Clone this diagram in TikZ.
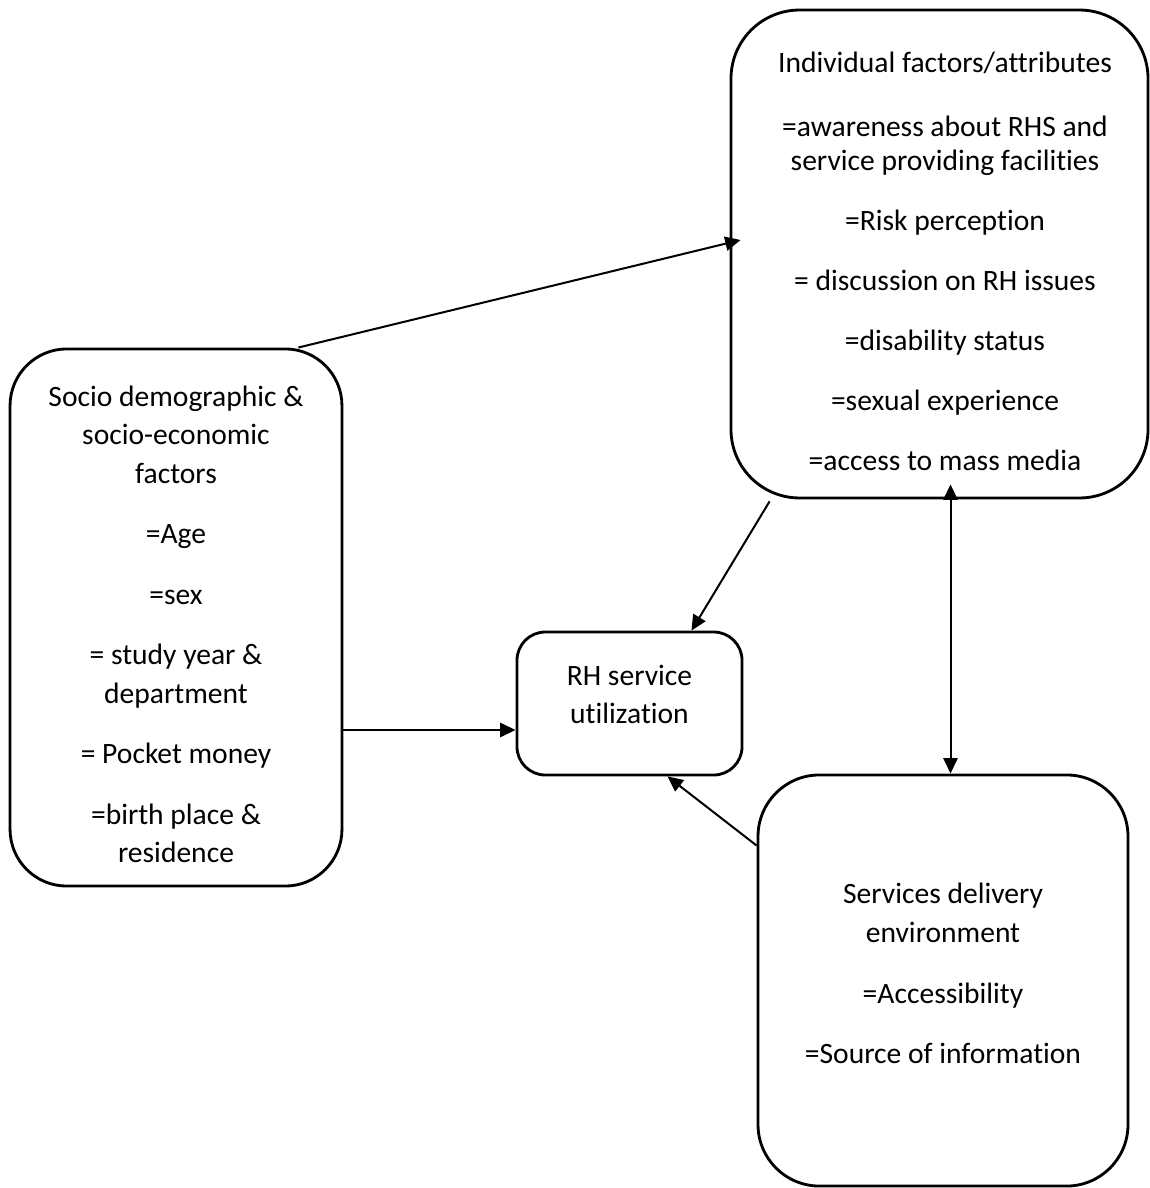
\documentclass[tikz,border=0pt]{standalone}
\usepackage{fontspec}
\setmainfont{Carlito}[Ligatures=NoCommon]
\usetikzlibrary{arrows.meta, calc}
\tikzset{
    >={Triangle[length=6.5pt, width=6pt]},% solid tip on every connector
    factor/.style = {draw, rectangle, rounded corners=#1, line width=1.2pt, inner sep=0pt},
    factor/.default = 25pt,
    itemtext/.style = {align=center, inner sep=0pt, anchor=north,
                       font=\fontsize{12.5pt}{#1}\selectfont},
    itemtext/.default = 14.4pt,
    link/.style = {->, line width=0.85pt}
}

\begin{document}
\begin{tikzpicture}[x=0.423pt, y=-0.423pt]% one unit = one pixel of the scan
  \useasboundingbox (0,0) rectangle (1149,1188);

  % the four boxes
  \node [factor=29pt, minimum width=176.4pt, minimum height=206.4pt] (indiv) at (939.5,254) {};
  \node [factor=24pt, minimum width=140.4pt, minimum height=227.2pt] (socio) at (176,617.5) {};
  \node [factor=12pt, minimum width=95.2pt, minimum height=60.5pt] (rh) at (629.5,703.5) {};
  \node [factor=26pt, minimum width=156.5pt, minimum height=173.9pt] (serv) at (943,980.5) {};

  % what stands in them
  \node [itemtext] (indivtxt) at (945,52) {Individual factors/attributes\\[12.5pt]
    =awareness about RHS and\\
    service providing facilities\\[11pt]
    =Risk perception\\[11pt]
    = discussion on RH issues\\[11pt]
    =disability status\\[11pt]
    =sexual experience\\[11pt]
    =access to mass media};
  \node [itemtext=16.3pt] (sociotxt) at (176,385) {Socio demographic \&\\
    socio-economic\\
    factors\\[9.3pt]
    =Age\\[9.3pt]
    =sex\\[9.3pt]
    = study year \&\\
    department\\[9.3pt]
    = Pocket money\\[9.3pt]
    =birth place \&\\
    residence};
  \node [itemtext=16.1pt] (rhtxt) at (629.5,665) {RH service\\ utilization};
  \node [itemtext=16.5pt] (servtxt) at (943,882) {Services delivery\\
    environment\\[9.3pt]
    =Accessibility\\[9.3pt]
    =Source of information};

  % connectors
  \coordinate (rhin) at ([shift={(0,26.5)}]rh.west);
  \coordinate (mtop) at ([shift={(11,-15)}]indiv.south);
  \draw [link] ([shift={(-45,0)}]socio.north east) -- ([shift={(11,-14)}]indiv.west);
  \draw [link] ([shift={(40,2)}]indiv.south west) -- ([shift={(62,0)}]rh.north);
  \draw [link] (socio.east |- rhin) -- (rhin);
  \draw [link] ([shift={(0,72)}]serv.north west) -- ([shift={(38,0)}]rh.south);
  \draw [link, <->] (mtop) -- (mtop |- serv.north);
\end{tikzpicture}
\end{document}
